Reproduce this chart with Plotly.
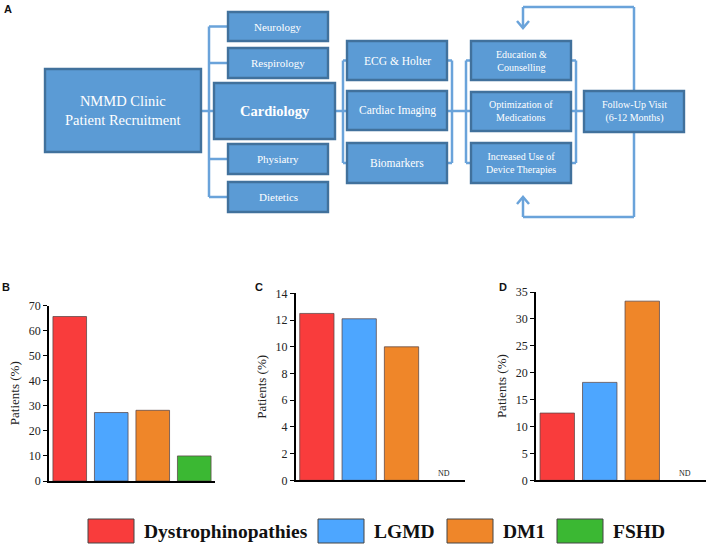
import plotly.graph_objects as go

W, H = 709, 546
SERIF = "Times New Roman, Liberation Serif, serif"

# ---------------- data ----------------
categories = ["Dystrophinopathies", "LGMD", "DM1", "FSHD"]
colors = ["#f93c3c", "#4da6ff", "#ef8629", "#3bb833"]
panel_b = [65.6, 27.3, 28.2, 10.0]
panel_c = [12.5, 12.1, 10.0, None]
panel_d = [12.5, 18.2, 33.3, None]
y_title = "Patients (%)"

def px(x):
    return x / W

def py(y):
    return 1 - y / H

fig = go.Figure()

# ---------------- bar panels ----------------
panels = [
    (panel_b, "x", "y", [49, 215], [481, 305.5], [0, 70], 10),
    (panel_c, "x2", "y2", [295.7, 465], [480.3, 293.4], [0, 14], 2),
    (panel_d, "x3", "y3", [536, 706], [480.3, 292], [0, 35], 5),
]
layout_axes = {}
for i, (vals, xa, ya, xd, yd, yr, dt) in enumerate(panels):
    fig.add_trace(go.Bar(
        x=categories, y=vals, xaxis=xa, yaxis=ya,
        marker=dict(color=colors, line=dict(color="rgba(90,70,70,0.75)", width=1)),
        showlegend=False, hoverinfo="x+y",
    ))
    sfx = "" if i == 0 else str(i + 1)
    layout_axes["xaxis" + sfx] = dict(
        domain=[px(xd[0]), px(xd[1])], anchor=ya, type="category",
        categoryorder="array", categoryarray=categories,
        range=[-0.5, 3.5], showticklabels=False, ticks="",
        showline=True, linecolor="black", linewidth=1.5, showgrid=False,
        zeroline=False, fixedrange=True,
    )
    layout_axes["yaxis" + sfx] = dict(
        domain=[py(yd[0]), py(yd[1])], anchor=xa, range=yr, dtick=dt,
        showline=True, linecolor="black", linewidth=1.5, showgrid=False,
        zeroline=False, ticks="outside", ticklen=4, tickwidth=1.2, tickcolor="black",
        tickfont=dict(family=SERIF, size=12, color="#222"),
        title=dict(text=y_title, standoff=6,
                   font=dict(family=SERIF, size=13, color="#222")),
        automargin=False,
    )
    if vals[3] is None:
        fig.add_annotation(x=categories[3], y=0, xref=xa, yref=ya, text="ND",
                           showarrow=False, yshift=7,
                           font=dict(family=SERIF, size=8, color="#222"))

fig.update_layout(**layout_axes)

shapes = []
annos = []

# ---------------- flowchart ----------------
BOX_FILL = "#5b9bd5"
BOX_LINE = "#41719c"
CONN = "#6aa3da"

boxes = [
    (45, 69, 201, 152, "NMMD Clinic<br>Patient Recruitment", 14.5),
    (228, 12, 328, 41, "Neurology", 11),
    (228, 48, 328, 78, "Respirology", 11),
    (214, 83, 335, 139, "<b>Cardiology</b>", 14.5),
    (228, 144, 328, 174, "Physiatry", 11),
    (228, 182, 328, 212, "Dietetics", 11),
    (347, 41, 447, 80, "ECG &amp; Holter", 11.5),
    (347, 91, 447, 130, "Cardiac Imaging", 11.5),
    (347, 143, 447, 183, "Biomarkers", 11.5),
    (471, 41, 571, 80, "Education &amp;<br>Counselling", 10),
    (471, 92, 571, 131, "Optimization of<br>Medications", 10),
    (471, 143, 571, 183, "Increased Use of<br>Device Therapies", 10),
    (584, 91, 684, 132, "Follow-Up Visit<br>(6-12 Months)", 10),
]

def seg(x0, y0, x1, y1, color=CONN, width=2.5):
    shapes.append(dict(type="line", xref="paper", yref="paper",
                       x0=px(x0), y0=py(y0), x1=px(x1), y1=py(y1),
                       line=dict(color=color, width=width), layer="below"))

# connectors
seg(209, 26.5, 209, 197)
for yc in [26.5, 63, 159, 197]:
    seg(209, yc, 228, yc)
seg(201, 111, 214, 111)
seg(335, 111, 343, 111)
seg(343, 60.5, 343, 163)
seg(452, 60.5, 452, 163)
seg(466, 60.5, 466, 163)
seg(576, 60.5, 576, 163)
for yc in [60.5, 111, 163]:
    seg(343, yc, 347, yc)
    seg(447, yc, 452, yc)
    seg(466, yc, 471, yc)
    seg(571, yc, 576, yc)
seg(452, 111, 466, 111)
seg(576, 111, 584, 111)
# loop back
seg(634, 91, 634, 7)
seg(634, 7, 523, 7)
seg(523, 7, 523, 28)
seg(634, 132, 634, 217)
seg(634, 217, 523, 217)
seg(523, 217, 523, 197)
# chevrons
for (tx, ty, d) in [(523, 28, -1), (523, 197, 1)]:
    shapes.append(dict(type="path", xref="paper", yref="paper",
                       path=f"M {px(tx-6)},{py(ty + 7*d)} L {px(tx)},{py(ty)} L {px(tx+6)},{py(ty + 7*d)}",
                       line=dict(color=CONN, width=2.5)))

for (x0, y0, x1, y1, txt, fs) in boxes:
    shapes.append(dict(type="rect", xref="paper", yref="paper",
                       x0=px(x0), y0=py(y1), x1=px(x1), y1=py(y0),
                       fillcolor=BOX_FILL, line=dict(color=BOX_LINE, width=2.4)))
    annos.append(dict(x=px((x0 + x1) / 2), y=py((y0 + y1) / 2), xref="paper", yref="paper",
                      text=txt, showarrow=False, xanchor="center", yanchor="middle",
                      font=dict(family=SERIF, size=fs, color="white")))

# ---------------- panel letters ----------------
for (lx, ly, lab) in [(8, 9, "A"), (6, 287, "B"), (259, 287, "C"), (503, 287, "D")]:
    annos.append(dict(x=px(lx), y=py(ly), xref="paper", yref="paper", text=f"<b>{lab}</b>",
                      showarrow=False, xanchor="center", yanchor="middle",
                      font=dict(family="Liberation Sans, Arial, sans-serif", size=11, color="#111")))

# ---------------- legend ----------------
legend_box_x = [88, 318, 447, 557]
for cat, col, bx in zip(categories, colors, legend_box_x):
    shapes.append(dict(type="rect", xref="paper", yref="paper",
                       x0=px(bx), y0=py(543), x1=px(bx + 46), y1=py(519),
                       fillcolor=col, line=dict(color="#444", width=1)))
    annos.append(dict(x=px(bx + 54), y=py(531), xref="paper", yref="paper",
                      text=f"<b>{cat}</b>", showarrow=False, xanchor="left", yanchor="middle",
                      font=dict(family=SERIF, size=19.5, color="#111")))

fig.update_layout(
    width=W, height=H, margin=dict(l=0, r=0, t=0, b=0),
    paper_bgcolor="white", plot_bgcolor="white",
    shapes=shapes, annotations=list(fig.layout.annotations) + annos,
    bargap=0.19, showlegend=False,
)

fig.write_html("out.html", config={"displayModeBar": False},
               post_script="document.body.style.margin='0';document.body.style.padding='0';")
